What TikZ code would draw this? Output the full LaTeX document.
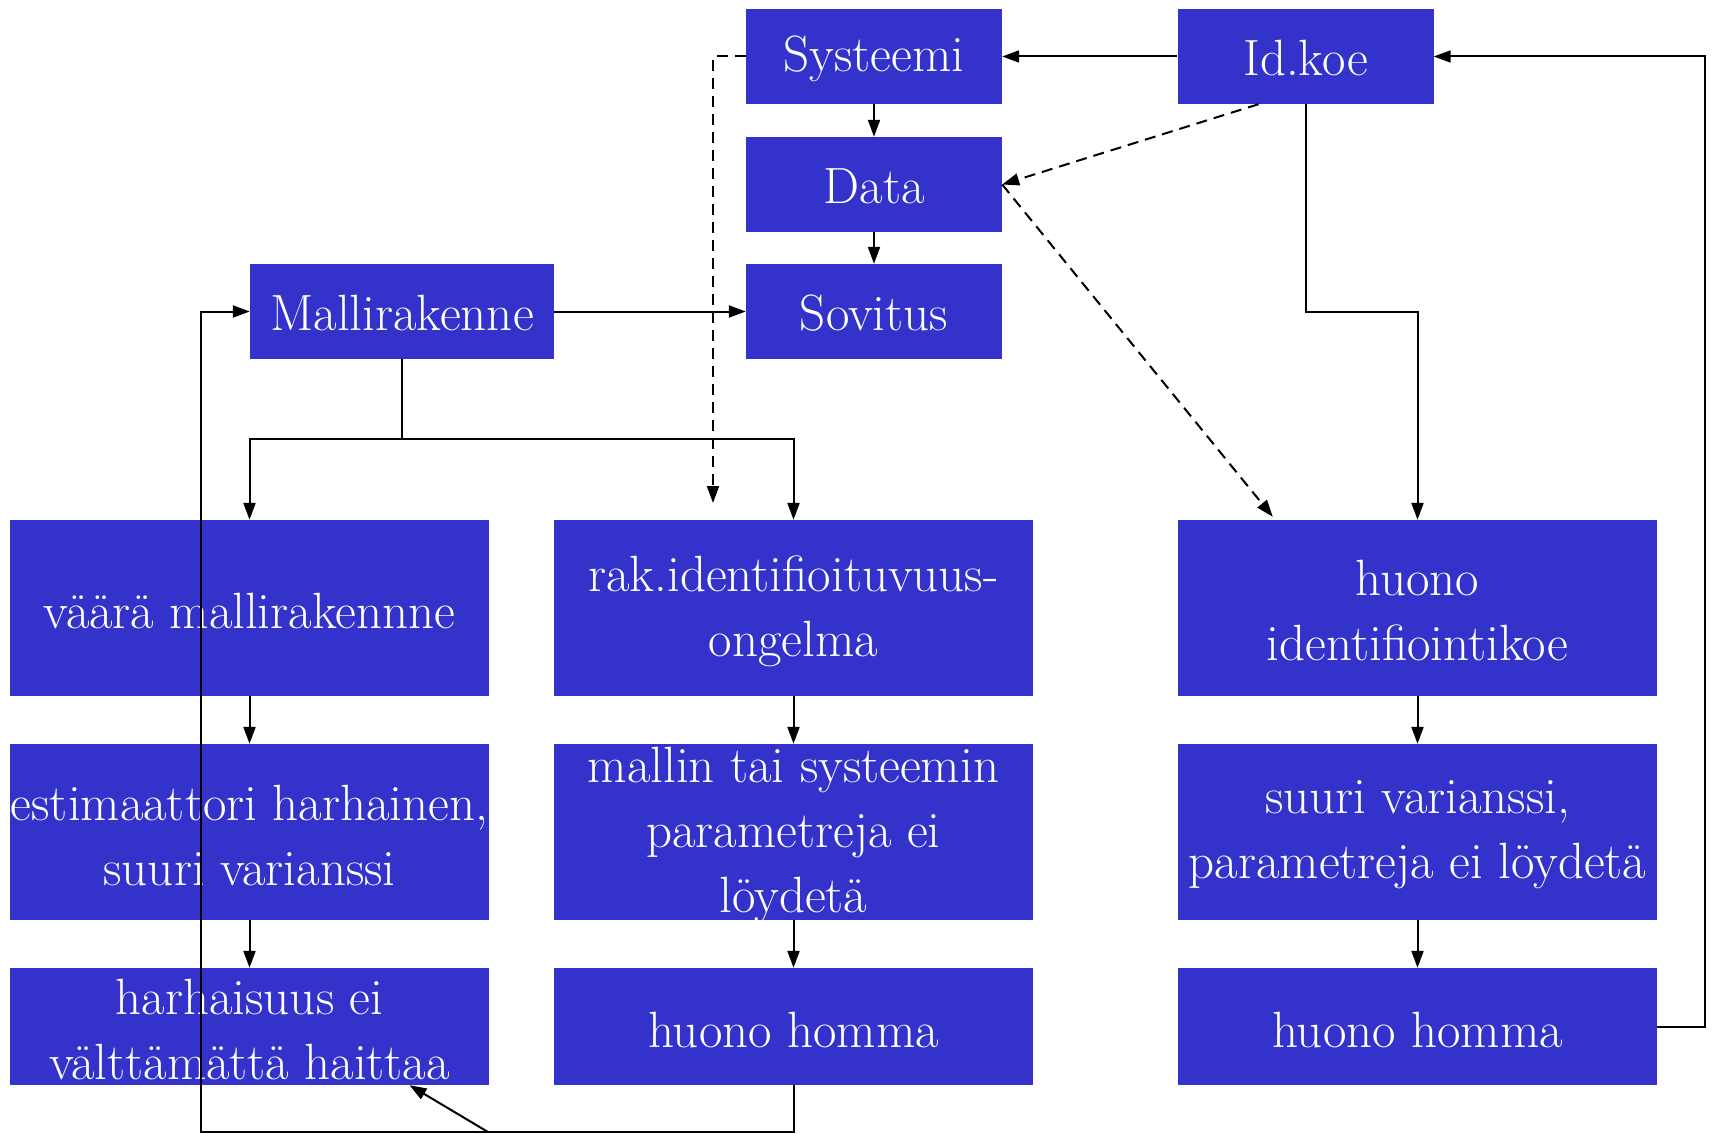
\documentclass[tikz,border=0pt]{standalone}
\usetikzlibrary{arrows.meta,calc}
\definecolor{boxblue}{RGB}{51,51,204}
\begin{document}
\begin{tikzpicture}[x=1pt,y=-1pt,
  box/.style={fill=boxblue,draw=none,inner sep=0pt,minimum width=479pt,minimum height=176pt},
  topbox/.style={box,minimum width=256pt,minimum height=95pt},
  txt/.style={text=white,align=center,inner sep=0pt,yshift=-3pt,font=\fontsize{51}{65}\selectfont},
  conn/.style={line width=2pt,line join=miter},
  arr/.style={conn,-{Triangle[length=17pt,width=12pt]}},
  dsh/.style={arr,dash pattern=on 11pt off 7pt}]
\useasboundingbox (0,0) rectangle (1713,1134);
% boxes
\node[topbox] (sys) at (874,56.5) {};
\node[topbox] (idk) at (1305.5,56.5) {};
\node[topbox] (data) at (874,184.5) {};
\node[topbox] (sov) at (874,311.5) {};
\node[topbox,minimum width=304pt] (mal) at (402,311.5) {};
\node[box] (b11) at (249.5,608) {};
\node[box] (b12) at (793.5,608) {};
\node[box] (b13) at (1417.5,608) {};
\node[box] (b21) at (249.5,832) {};
\node[box] (b22) at (793.5,832) {};
\node[box] (b23) at (1417.5,832) {};
\node[box,minimum height=117pt] (b31) at (249.5,1026.5) {};
\node[box,minimum height=117pt] (b32) at (793.5,1026.5) {};
\node[box,minimum height=117pt] (b33) at (1417.5,1026.5) {};
% texts
\node[txt,yshift=1pt] (tsys) at (sys) {Systeemi};
\node[txt,yshift=1pt] (tidk) at (idk) {Id.koe};
\node[txt,yshift=1pt] (tdata) at (data) {Data};
\node[txt,yshift=1pt] (tsov) at (sov) {Sovitus};
\node[txt,yshift=1pt] (tmal) at (mal) {Mallirakenne};
\node[txt] (t11) at (b11) {väärä mallirakennne};
\node[txt] (t12) at (b12) {rak.identifioituvuus-\\ongelma};
\node[txt] (t13) at (b13) {huono\\identifiointikoe};
\node[txt] (t21) at (b21) {estimaattori harhainen,\\suuri varianssi};
\node[txt] (t22) at (b22) {mallin tai systeemin\\parametreja ei\\löydetä};
\node[txt] (t23) at (b23) {suuri varianssi,\\parametreja ei löydetä};
\node[txt] (t31) at (b31) {harhaisuus ei\\välttämättä haittaa};
\node[txt] (t32) at (b32) {huono homma};
\node[txt] (t33) at (b33) {huono homma};
% helper coordinates
\coordinate (dend) at (713,503);
\coordinate (split) at (402,439);
\coordinate (lb) at (201,1132);
\coordinate (dg) at (488,1132);
\coordinate (idkd) at ($(idk.south)+(-47,0)$);
\coordinate (b13d) at ($(b13.north west)+(95,-3)$);
\coordinate (b31d) at ($(b31.south)+(160,0)$);
% connectors
\draw[arr] (idk.west) -- (sys.east);
\draw[arr] (sys.south) -- (data.north);
\draw[arr] (data.south) -- (sov.north);
\draw[arr] (mal.east) -- (sov.west);
\draw[dsh] (sys.west) -| (dend);
\draw[dsh] (idkd) -- (data.east);
\draw[dsh] (data.east) -- (b13d);
\draw[arr] (idk.south) -- (idk.south |- sov.center) -| (b13.north);
\draw[conn] (mal.south) -- (split);
\draw[arr] (split) -| (b11.north);
\draw[arr] (split) -| (b12.north);
\draw[arr] (b11.south) -- (b21.north);
\draw[arr] (b21.south) -- (b31.north);
\draw[arr] (b12.south) -- (b22.north);
\draw[arr] (b22.south) -- (b32.north);
\draw[arr] (b13.south) -- (b23.north);
\draw[arr] (b23.south) -- (b33.north);
\draw[arr] (b33.east) -- ++(48,0) |- (idk.east);
\draw[arr] (b32.south) |- (lb) |- (mal.west);
\draw[arr] (dg) -- (b31d);
\end{tikzpicture}
\end{document}
